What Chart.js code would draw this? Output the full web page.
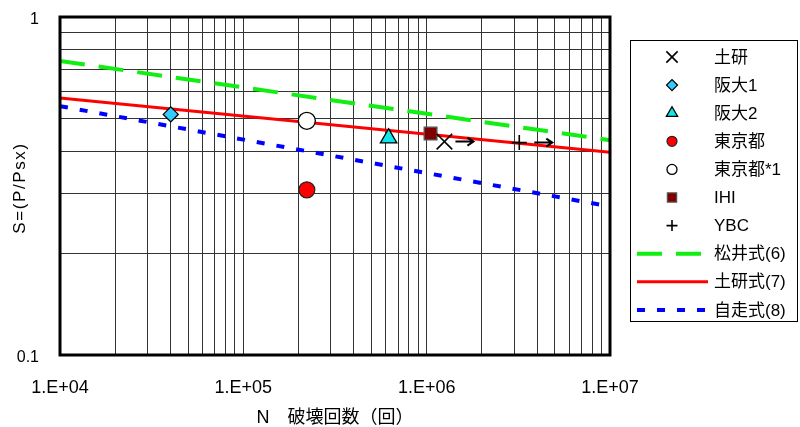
<!DOCTYPE html>
<html>
<head>
<meta charset="utf-8">
<script src="https://cdn.jsdelivr.net/npm/chart.js@4/dist/chart.umd.min.js"></script>
<style>
html,body{margin:0;padding:0;background:#fff;}
#c{display:block;}
</style>
</head>
<body>
<canvas id="c" width="800" height="427"></canvas>
<script>
// ---- data ----
const xTickValues = [1e4,2e4,3e4,4e4,5e4,6e4,7e4,8e4,9e4,
                     1e5,2e5,3e5,4e5,5e5,6e5,7e5,8e5,9e5,
                     1e6,2e6,3e6,4e6,5e6,6e6,7e6,8e6,9e6,1e7];
const yTickValues = [0.1,0.2,0.3,0.4,0.5,0.6,0.7,0.8,0.9,1];

const lineN   = [1e4, 1e7];
const matsuiS = [0.741, 0.432];   // 松井式(6)
const dokenS  = [0.576, 0.398];   // 土研式(7)
const jisouS  = [0.545, 0.275];   // 自走式(8)

const dokenTestN  = [1.25e6]; const dokenTestS  = [0.428]; // 土研
const osaka1N     = [4.02e4]; const osaka1S     = [0.515]; // 阪大1
const osaka2N     = [6.2e5];  const osaka2S     = [0.438]; // 阪大2
const tokyoN      = [2.22e5]; const tokyoS      = [0.308]; // 東京都
const tokyoStarN  = [2.22e5]; const tokyoStarS  = [0.493]; // 東京都*1
const ihiN        = [1.05e6]; const ihiS        = [0.452]; // IHI
const ybcN        = [3.2e6];  const ybcS        = [0.425]; // YBC

const yTitle = 'S=(P/Psx)';
const xTitle = 'N　破壊回数（回）';

const pts = (xs, ys) => xs.map((x, i) => ({x: x, y: ys[i]}));

const FONT = '"Liberation Sans", "Noto Sans CJK JP", sans-serif';
Chart.defaults.font.family = FONT;
Chart.defaults.color = '#000';

const datasets = [
  {label:'土研', data:pts(dokenTestN, dokenTestS), pointStyle:'crossRot', pointRadius:11,
   borderColor:'#000', backgroundColor:'rgba(0,0,0,0)', pointBorderWidth:1.6, order:1,
   legendRadius:8, arrow:{from:11, to:29}},
  {label:'阪大1', data:pts(osaka1N, osaka1S), pointStyle:'rectRot', pointRadius:7.5,
   borderColor:'#000', backgroundColor:'#33CCFF', pointBorderWidth:1.3, order:1, legendRadius:5.5},
  {label:'阪大2', data:pts(osaka2N, osaka2S), pointStyle:'triangle', pointRadius:9.5,
   borderColor:'#000', backgroundColor:'#11E6EE', pointBorderWidth:1.3, order:1, legendRadius:6.5},
  {label:'東京都', data:pts(tokyoN, tokyoS), pointStyle:'circle', pointRadius:8,
   borderColor:'#222', backgroundColor:'#FF0000', pointBorderWidth:1.2, order:1, legendRadius:5},
  {label:'東京都*1', data:pts(tokyoStarN, tokyoStarS), pointStyle:'circle', pointRadius:8.5,
   borderColor:'#000', backgroundColor:'#FFFFFF', pointBorderWidth:1.3, order:1, legendRadius:5},
  {label:'IHI', data:pts(ihiN, ihiS), pointStyle:'rect', pointRadius:9,
   borderColor:'#555', backgroundColor:'#800000', pointBorderWidth:1.3, order:1, legendRadius:6.5},
  {label:'YBC', data:pts(ybcN, ybcS), pointStyle:'cross', pointRadius:7.5,
   borderColor:'#000', backgroundColor:'rgba(0,0,0,0)', pointBorderWidth:1.6, order:1,
   legendRadius:5.5, arrow:{from:15, to:33}},
  {label:'松井式(6)', type:'line', data:pts(lineN, matsuiS), showLine:true, pointRadius:0,
   borderColor:'#11EE11', borderWidth:4, borderDash:[25,14], order:2, fill:false, isLine:true},
  {label:'土研式(7)', type:'line', data:pts(lineN, dokenS), showLine:true, pointRadius:0,
   borderColor:'#FF0000', borderWidth:3, order:2, fill:false, isLine:true},
  {label:'自走式(8)', type:'line', data:pts(lineN, jisouS), showLine:true, pointRadius:0,
   borderColor:'#0000FF', borderWidth:4, borderDash:[8,12], order:2, fill:false, isLine:true}
];

function drawMarker(ctx, ds, x, y, r) {
  ctx.save();
  ctx.fillStyle = ds.backgroundColor;
  ctx.strokeStyle = ds.borderColor;
  ctx.lineWidth = ds.pointBorderWidth;
  if (Chart.helpers && Chart.helpers.drawPoint) {
    Chart.helpers.drawPoint(ctx, {pointStyle: ds.pointStyle, rotation: 0, radius: r, borderWidth: ds.pointBorderWidth}, x, y);
  }
  ctx.restore();
}

const decorPlugin = {
  id: 'decor',
  afterDraw(chart) {
    const ctx = chart.ctx;
    const a = chart.chartArea;
    // plot border
    ctx.save();
    ctx.strokeStyle = '#000';
    ctx.lineWidth = 3;
    ctx.strokeRect(a.left, a.top, a.right - a.left, a.bottom - a.top);
    ctx.restore();

    // y axis title (spaced letters)
    ctx.save();
    ctx.translate(20, (a.top + a.bottom) / 2 + 2);
    ctx.rotate(-Math.PI / 2);
    ctx.fillStyle = '#000';
    ctx.font = '17px ' + FONT;
    try { ctx.letterSpacing = '1.6px'; } catch (e) {}
    ctx.textAlign = 'center';
    ctx.textBaseline = 'middle';
    ctx.fillText(yTitle, 0, 0);
    ctx.restore();

    // run-out arrows next to points
    chart.data.datasets.forEach((ds, di) => {
      if (!ds.arrow) return;
      const meta = chart.getDatasetMeta(di);
      meta.data.forEach(el => {
        const x0 = el.x + ds.arrow.from, x1 = el.x + ds.arrow.to, y = el.y;
        ctx.save();
        ctx.strokeStyle = '#000';
        ctx.lineWidth = 2;
        ctx.beginPath();
        ctx.moveTo(x0, y); ctx.lineTo(x1, y);
        ctx.moveTo(x1 - 6, y - 4); ctx.lineTo(x1, y); ctx.lineTo(x1 - 6, y + 4);
        ctx.stroke();
        ctx.restore();
      });
    });

    // legend
    const lx = 630, ly = 40, lw = 167, lh = 281;
    ctx.save();
    ctx.fillStyle = '#fff';
    ctx.fillRect(lx, ly, lw, lh);
    ctx.strokeStyle = '#000';
    ctx.lineWidth = 1;
    ctx.strokeRect(lx + 0.5, ly + 0.5, lw, lh);
    ctx.restore();
    const rowTop = 57, rowStep = 28.1;
    chart.data.datasets.forEach((ds, i) => {
      const cy = rowTop + i * rowStep;
      if (ds.isLine) {
        ctx.save();
        ctx.strokeStyle = ds.borderColor;
        ctx.lineWidth = ds.borderWidth;
        ctx.setLineDash(ds.borderDash || []);
        ctx.beginPath();
        ctx.moveTo(637, cy); ctx.lineTo(708, cy);
        ctx.stroke();
        ctx.restore();
      } else {
        drawMarker(ctx, ds, 672, cy, ds.legendRadius);
      }
      ctx.save();
      ctx.fillStyle = '#000';
      ctx.font = '17px ' + FONT;
      ctx.textAlign = 'left';
      ctx.textBaseline = 'middle';
      ctx.fillText(ds.label, 714, cy + 1);
      ctx.restore();
    });
  }
};

function xLabel(v) {
  const e = Math.log10(v);
  if (Math.abs(e - Math.round(e)) < 1e-9) {
    const n = Math.round(e);
    return '1.E' + (n >= 0 ? '+' : '-') + String(Math.abs(n)).padStart(2, '0');
  }
  return '';
}
function yLabel(v) {
  if (Math.abs(v - 1) < 1e-9) return '1';
  if (Math.abs(v - 0.1) < 1e-9) return '0.1';
  return '';
}

new Chart(document.getElementById('c').getContext('2d'), {
  type: 'scatter',
  data: {datasets: datasets},
  options: {
    responsive: false,
    animation: false,
    devicePixelRatio: 1,
    layout: {padding: {top: 17, right: 190, left: 0, bottom: 0}},
    plugins: {legend: {display: false}, tooltip: {enabled: false}},
    scales: {
      x: {
        type: 'logarithmic', min: 1e4, max: 1e7, position: 'bottom',
        afterBuildTicks: s => { s.ticks = xTickValues.map(v => ({value: v, major: false})); },
        afterFit: s => { s.height = 72; s.paddingLeft = 0; s.paddingRight = 0; },
        ticks: {autoSkip: false, maxRotation: 0, minRotation: 0, padding: 22,
                font: {size: 18}, color: '#000', callback: v => xLabel(v)},
        grid: {color: '#333', lineWidth: 1, drawTicks: false},
        border: {display: false},
        title: {display: true, text: xTitle, color: '#000',
                font: {size: 18, lineHeight: 1}, padding: {top: 0, bottom: 0}}
      },
      y: {
        type: 'logarithmic', min: 0.1, max: 1, position: 'left',
        afterBuildTicks: s => { s.ticks = yTickValues.map(v => ({value: v, major: false})); },
        afterFit: s => { s.width = 60; s.paddingTop = 0; s.paddingBottom = 0; },
        ticks: {autoSkip: false, padding: 21, labelOffset: 3, font: {size: 16}, color: '#000', callback: v => yLabel(v)},
        grid: {color: '#333', lineWidth: 1, drawTicks: false},
        border: {display: false},
        title: {display: false}
      }
    }
  },
  plugins: [decorPlugin]
});
</script>
</body>
</html>
